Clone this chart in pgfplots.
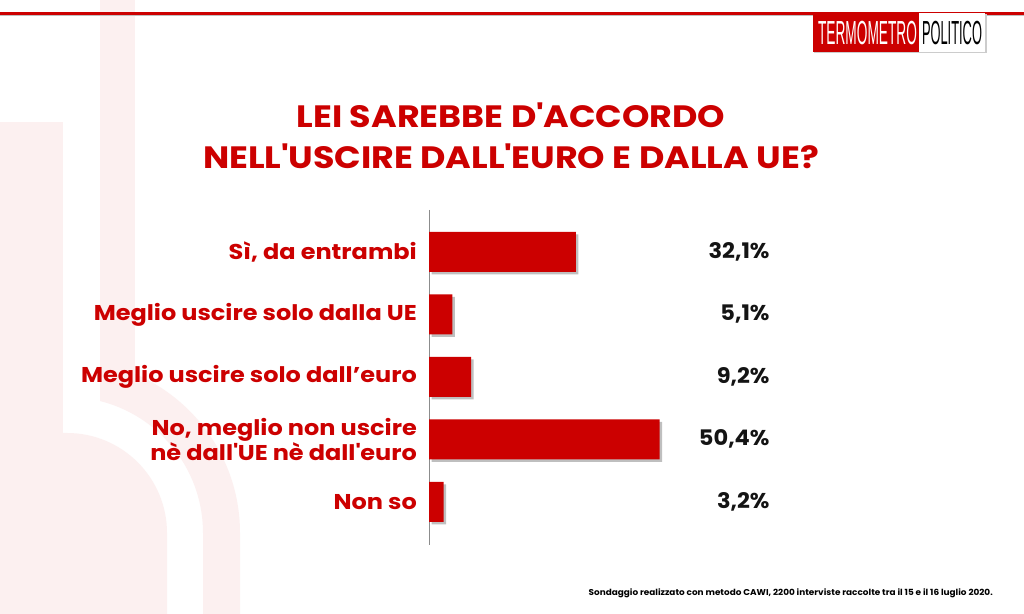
\documentclass[border=0pt]{standalone}
\usepackage{pgfplots}
\pgfplotsset{compat=1.18}
\usepackage{fontspec}
\setmainfont{Poppins}
\newfontfamily\widea{Poppins}[FakeStretch=1.13]
\newfontfamily\wideb{Poppins}[FakeStretch=1.12]
\newfontfamily\widec{Poppins}[FakeStretch=1.05]
\newfontfamily\logofont{Liberation Sans}
\usetikzlibrary{shadows}
\definecolor{tpred}{HTML}{CC0000}
\definecolor{wm}{HTML}{FCF0F0}
\begin{document}
\begin{tikzpicture}[x=1bp,y=1bp]
\useasboundingbox (0,0) rectangle (1024,614);
\fill[white] (0,0) rectangle (1024,614);
% watermark
\fill[wm] (0,181) -- (67,181) arc[start angle=90,end angle=0,radius=100] -- (167,0) -- (0,0) -- cycle;
\fill[wm] (0,180) rectangle (63,492);
\begin{scope}
\clip (100,0) rectangle (400,614);
\fill[wm] (67,254) arc[start angle=90,end angle=0,radius=173] -- (240,0) -- (203,0) -- (203,81) arc[start angle=0,end angle=90,radius=136] -- cycle;
\end{scope}
\fill[wm] (100,225) rectangle (135,614);
% top line
\fill[black!25] (0,597.5) rectangle (1024,599);
\fill[tpred] (0,599) rectangle (1024,602);
% logo
\fill[black!20] (814,561) rectangle (987,600);
\fill[tpred] (813,562) rectangle (919,601);
\fill[white] (919,562) rectangle (985,601);
\node[anchor=base, xscale=0.41, text=white, inner sep=0pt] at (867.5,569) {\logofont\fontsize{33.5}{36}\selectfont TERMOMETRO};
\node[anchor=base, xscale=0.385, text=black, inner sep=0pt] at (952,569) {\logofont\fontsize{33.5}{36}\selectfont POLITICO};
% title
\node[anchor=base, text=tpred, inner sep=0pt] at (511,486) {\widea\fontsize{31}{36}\selectfont\bfseries LEI SAREBBE D\textquotesingle ACCORDO};
\node[anchor=base, text=tpred, inner sep=0pt] at (511,445) {\widea\fontsize{31}{36}\selectfont\bfseries NELL\textquotesingle USCIRE DALL\textquotesingle EURO E DALLA UE?};
% footnote
\node[anchor=base east, text=black, inner sep=0pt] at (993,18) {\widec\fontsize{8.5}{10}\selectfont\bfseries Sondaggio realizzato con metodo CAWI, 2200 interviste raccolte tra il 15 e il 16 luglio 2020.};
\begin{axis}[at={(429bp,69bp)}, anchor=south west, scale only axis,
  width=343bp, height=335bp,
  xmin=0, xmax=75, ymin=-0.67, ymax=4.69, y dir=reverse,
  axis x line=none, axis y line*=left,
  y axis line style={black!45, line width=0.8bp},
  ytick={0,1,2,3,4},
  yticklabels={{Sì, da entrambi},{Meglio uscire solo dalla UE},{Meglio uscire solo dall’euro},{No, meglio non uscire\\nè dall\textquotesingle UE nè dall\textquotesingle euro},{Non so}},
  major tick length=0pt,
  yticklabel style={font=\wideb\fontsize{21.5}{23}\selectfont\bfseries, text=tpred, align=right, anchor=east, inner sep=0pt, xshift=-12bp},
  /pgf/number format/assume math mode=true,
  clip=false]
\addplot[xbar, bar width=40bp, fill=tpred, draw=none,
  drop shadow={shadow xshift=2.5bp, shadow yshift=-2.5bp, fill=black, opacity=0.25}]
  coordinates {(32.1,0) (5.1,1) (9.2,2) (50.4,3) (3.2,4)};
\addplot[draw=none, mark=none, point meta=explicit,
  nodes near coords={\pgfmathprintnumber{\pgfplotspointmeta}\%},
  nodes near coords align={anchor=east},
  nodes near coords style={anchor=east, inner sep=0pt, text=black!92, font=\widec\fontsize{21.5}{24}\selectfont\bfseries,
    /pgf/number format/.cd, use comma, fixed, fixed zerofill, precision=1, assume math mode=true}]
  coordinates {(74.5,0) [32.1] (74.5,1) [5.1] (74.5,2) [9.2] (74.5,3) [50.4] (74.5,4) [3.2]};
\end{axis}
\end{tikzpicture}
\end{document}
